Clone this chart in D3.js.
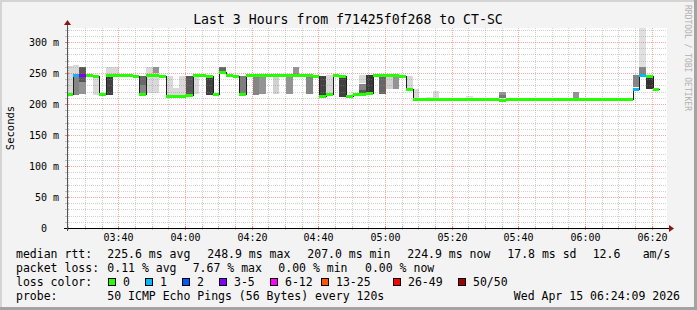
<!DOCTYPE html>
<html>
<head>
<meta charset="utf-8">
<script src="https://cdn.jsdelivr.net/npm/d3@7"></script>
<style>
  body { margin: 0; background: #f3f3f3; }
  text { font-family: "DejaVu Sans Mono", monospace; fill: #000; }
</style>
</head>
<body>
<div class="chart"></div>
<script>
// data
var stepStart = Date.UTC(2026, 3, 15, 3, 24, 20);
var stepSec = 120;

// median rtt per 120s step (ms)
var medians = [
  216, 247, 247, 247, 245, 216, 247, 247, 247, 247,
  245, 216, 247, 247, 245, 213, 213, 213, 215, 247,
  247, 245, 216, 251, 247, 245, 216, 247, 247, 247,
  247, 247, 247, 247, 247, 247, 247, 245, 213, 216,
  247, 245, 213, 216, 216, 218, 247, 247, 247, 247,
  245, 225, 208, 208, 208, 208, 208, 208, 208, 208,
  208, 208, 208, 208, 208, 207, 208, 208, 208, 208,
  208, 208, 208, 208, 208, 208, 208, 208, 208, 208,
  208, 208, 208, 208, 208, 225, 247, 245, 225
];

// lost pings (of 50) per step
var losses = [
  0, 1, 4, 0, 0, 0, 0, 0, 0, 0,
  0, 0, 0, 0, 0, 0, 0, 0, 0, 0,
  0, 0, 0, 0, 0, 0, 0, 0, 0, 0,
  0, 0, 0, 0, 0, 0, 0, 0, 0, 0,
  0, 0, 0, 0, 0, 0, 0, 0, 0, 0,
  0, 0, 0, 0, 0, 0, 0, 0, 0, 0,
  0, 0, 0, 0, 0, 0, 0, 0, 0, 0,
  0, 0, 0, 0, 0, 0, 0, 0, 0, 0,
  0, 0, 0, 0, 0, 1, 1, 0, 0
];

// smoke bands: [step, low ms, high ms, pair depth 1..25]
var smoke = [
  [0, 217, 262, 3],
  [1, 246, 263, 3], [1, 214, 246, 14],
  [2, 236, 260, 20], [2, 216, 236, 12],
  [4, 214, 245, 3],
  [6, 245, 260, 3], [6, 215, 245, 23],
  [7, 247, 260, 3],
  [11, 216, 231, 14], [11, 231, 245, 18],
  [12, 217, 260, 3],
  [13, 217, 250, 3], [13, 250, 260, 12],
  [15, 214, 245, 3],
  [16, 214, 226, 3],
  [17, 214, 245, 3],
  [18, 216, 245, 20],
  [19, 216, 245, 3],
  [21, 214, 245, 23],
  [23, 251, 260, 18],
  [26, 216, 245, 15],
  [28, 214, 245, 14],
  [29, 216, 245, 12],
  [31, 216, 245, 4],
  [33, 216, 245, 12],
  [34, 247, 260, 12],
  [36, 216, 245, 14],
  [38, 214, 245, 23],
  [39, 214, 247, 3],
  [41, 212, 244, 23],
  [44, 234, 247, 3], [44, 223, 232, 14], [44, 218, 223, 20],
  [45, 220, 247, 24],
  [47, 216, 245, 18],
  [48, 224, 245, 4],
  [49, 224, 245, 12],
  [51, 226, 245, 3],
  [52, 208, 225, 3],
  [54, 208, 212, 2],
  [55, 208, 221, 3],
  [60, 209, 213, 2],
  [65, 209, 220, 12], [65, 209, 214, 16],
  [76, 209, 220, 12],
  [85, 227, 247, 14],
  [86, 260, 330, 2], [86, 248, 260, 14],
  [87, 224, 243, 25]
];

var lossLabels = ["0", "1", "2", "3-5", "6-12", "13-25", "26-49", "50/50"];
var lossColors = ["#26ff00", "#00b8ff", "#0059ff", "#7e00ff", "#ff00ff", "#ff5500", "#ff0000", "#a00000"];
var lossUpper = [0, 1, 2, 5, 12, 25, 49, 50];

var yTicks = [0, 50, 100, 150, 200, 250, 300];

var title = "Last 3 Hours from f71425f0f268 to CT-SC";
var rttStats = ["225.6 ms avg", "248.9 ms max", "207.0 ms min", "224.9 ms now", "17.8 ms sd", "12.6", "am/s"];
var lossStats = ["0.11 % avg", "7.67 % max", "0.00 % min", "0.00 % now"];
var probeText = "50 ICMP Echo Pings (56 Bytes) every 120s";
var stamp = "Wed Apr 15 06:24:09 2026";

// layout
var svgWidth = 697, svgHeight = 310;
var plot = { left: 67, right: 667, top: 28, bottom: 228 };

var svg = d3.select(".chart").append("svg")
  .attr("width", svgWidth)
  .attr("height", svgHeight);

svg.append("rect").attr("width", svgWidth).attr("height", svgHeight).attr("fill", "#f3f3f3");
svg.append("rect").attr("x", 0).attr("y", 0).attr("width", svgWidth).attr("height", 2).attr("fill", "#d4d4d4");
svg.append("rect").attr("x", 0).attr("y", 0).attr("width", 2).attr("height", svgHeight).attr("fill", "#d4d4d4");
svg.append("rect").attr("x", 0).attr("y", svgHeight - 3).attr("width", svgWidth).attr("height", 3).attr("fill", "#a3a3a3");
svg.append("rect").attr("x", svgWidth - 3).attr("y", 0).attr("width", 3).attr("height", svgHeight).attr("fill", "#a3a3a3");

var x = d3.scaleUtc()
  .domain([Date.UTC(2026, 3, 15, 3, 24, 36), Date.UTC(2026, 3, 15, 6, 24, 36)])
  .range([plot.left, plot.right]);

var y = d3.scaleLinear()
  .domain([0, 322.6])
  .range([plot.bottom, plot.top]);

svg.append("defs").append("clipPath").attr("id", "clip")
  .append("rect")
  .attr("x", plot.left).attr("y", plot.top)
  .attr("width", plot.right - plot.left).attr("height", plot.bottom - plot.top);

svg.append("rect")
  .attr("x", plot.left).attr("y", plot.top)
  .attr("width", plot.right - plot.left).attr("height", plot.bottom - plot.top)
  .attr("fill", "#ffffff");

var t0 = function(i) { return new Date(stepStart + i * stepSec * 1000); };
var t1 = function(i) { return new Date(stepStart + (i + 1) * stepSec * 1000); };

var chartGroup = svg.append("g").attr("clip-path", "url(#clip)");

// smoke
chartGroup.selectAll("rect.smoke")
  .data(smoke)
  .enter()
  .append("rect")
  .attr("class", "smoke")
  .attr("x", d => Math.round(x(t0(d[0]))))
  .attr("width", d => Math.round(x(t1(d[0]))) - Math.round(x(t0(d[0]))))
  .attr("y", d => Math.round(y(d[2])))
  .attr("height", d => Math.round(y(d[1])) - Math.round(y(d[2])))
  .attr("fill", function(d) {
    var g = Math.floor(190 / 25 * (25 - d[3])) + 50;
    return d3.rgb(g, g, g);
  })
  .attr("shape-rendering", "crispEdges");

// grid (semi transparent, drawn over the smoke like rrdtool does)
var minorCol = "rgba(140,140,140,0.4)", majorCol = "rgba(255,60,60,0.45)";
var grid = svg.append("g").attr("shape-rendering", "crispEdges");
var minorX = d3.utcMinute.every(5).range(x.domain()[0], x.domain()[1]);
minorX.forEach(function(t) {
  var major = t.getUTCMinutes() % 20 === 0;
  var xx = Math.round(x(t)) + 0.5;
  grid.append("line")
    .attr("x1", xx).attr("x2", xx)
    .attr("y1", plot.top).attr("y2", plot.bottom)
    .attr("stroke", major ? majorCol : minorCol)
    .attr("stroke-dasharray", "1,1");
  grid.append("line")
    .attr("x1", xx).attr("x2", xx)
    .attr("y1", plot.bottom - 2).attr("y2", plot.bottom + 2)
    .attr("stroke", major ? "#e08080" : "#c0c0c0");
});
d3.range(10, 330, 10).forEach(function(v) {
  var yy = Math.round(y(v)) + 0.5;
  if (yy < plot.top) return;
  var major = v % 50 === 0;
  grid.append("line")
    .attr("x1", plot.left).attr("x2", plot.right)
    .attr("y1", yy).attr("y2", yy)
    .attr("stroke", major ? majorCol : minorCol)
    .attr("stroke-dasharray", "1,1");
  grid.append("line")
    .attr("x1", plot.left - 2).attr("x2", plot.left + 2)
    .attr("y1", yy).attr("y2", yy)
    .attr("stroke", major ? "#e08080" : "#c0c0c0");
});

// median line (black step)
var medPts = medians.map((m, i) => [t0(i), m]);
medPts.push([t1(medians.length - 1), medians[medians.length - 1]]);
var line = d3.line()
  .x(d => Math.round(x(d[0])) + 0.5)
  .y(d => Math.round(y(d[1])) + 0.5)
  .curve(d3.curveStepAfter);

var lines = svg.append("g").attr("clip-path", "url(#clip)");
lines.append("path")
  .attr("d", line(medPts))
  .attr("fill", "none")
  .attr("stroke", "#202020")
  .attr("stroke-width", 1)
  .attr("shape-rendering", "crispEdges");

// loss coloured median bands
function lossIndex(l) {
  for (var k = 0; k < lossUpper.length; k++) if (l <= lossUpper[k]) return k;
  return lossUpper.length - 1;
}
lines.selectAll("rect.med")
  .data(medians)
  .enter()
  .append("rect")
  .attr("class", "med")
  .attr("x", (d, i) => Math.round(x(t0(i))))
  .attr("width", (d, i) => Math.round(x(t1(i))) - Math.round(x(t0(i))))
  .attr("y", d => Math.round(y(d)) - 1)
  .attr("height", 3)
  .attr("fill", (d, i) => lossColors[lossIndex(losses[i])])
  .attr("shape-rendering", "crispEdges");

// axes
var axes = svg.append("g").attr("shape-rendering", "crispEdges");
axes.append("line")
  .attr("x1", plot.left - 3).attr("x2", plot.right + 2)
  .attr("y1", plot.bottom + 0.5).attr("y2", plot.bottom + 0.5)
  .attr("stroke", "#000");
axes.append("line")
  .attr("x1", plot.left + 0.5).attr("x2", plot.left + 0.5)
  .attr("y1", plot.bottom + 3).attr("y2", plot.top - 3)
  .attr("stroke", "#555");
svg.append("path")
  .attr("d", `M${plot.right + 2},${plot.bottom - 3}L${plot.right + 7},${plot.bottom + 0.5}L${plot.right + 2},${plot.bottom + 4}Z`)
  .attr("fill", "#8b1414");
svg.append("path")
  .attr("d", `M${plot.left - 3},${plot.top - 3}L${plot.left + 0.5},${plot.top - 8}L${plot.left + 4},${plot.top - 3}Z`)
  .attr("fill", "#8b1414");

// y labels
svg.selectAll("text.ylab")
  .data(yTicks)
  .enter()
  .append("text")
  .attr("class", "ylab")
  .attr("x", d => d === 0 ? 47 : 59)
  .attr("y", d => y(d) + 3.5)
  .attr("text-anchor", "end")
  .attr("font-size", "10px")
  .text(d => d === 0 ? "0" : d + " m");

// x labels
var xLabels = d3.utcMinute.every(20).range(x.domain()[0], x.domain()[1]);
svg.selectAll("text.xlab")
  .data(xLabels)
  .enter()
  .append("text")
  .attr("class", "xlab")
  .attr("x", d => Math.round(x(d)) + 0.5)
  .attr("y", 241)
  .attr("text-anchor", "middle")
  .attr("font-size", "10px")
  .text(d => d3.utcFormat("%H:%M")(d));

svg.append("text")
  .attr("transform", "translate(14, 128) rotate(-90)")
  .attr("text-anchor", "middle")
  .attr("font-size", "10.5px")
  .text("Seconds");

svg.append("text")
  .attr("x", 348).attr("y", 23.5)
  .attr("text-anchor", "middle")
  .attr("font-size", "13.2px")
  .text(title);

svg.append("text")
  .attr("transform", "translate(685, 5) rotate(90)")
  .attr("font-size", "8px")
  .style("fill", "#b0b0b0")
  .text("RRDTOOL / TOBI OETIKER");

// legend
var legend = svg.append("g").attr("font-size", "11.5px");
legend.append("text").attr("x", 16).attr("y", 258).text("median rtt:");
var rttX = [107.3, 207.3, 307.3, 407.3, 507.3, 592.7, 642.7];
rttStats.forEach((s, i) => legend.append("text").attr("x", rttX[i]).attr("y", 258).text(s));
legend.append("text").attr("x", 16).attr("y", 272).text("packet loss:");
var lossX = [107.3, 192.7, 278.3, 365];
lossStats.forEach((s, i) => legend.append("text").attr("x", lossX[i]).attr("y", 272).text(s));
legend.append("text").attr("x", 16).attr("y", 286).text("loss color:");
var boxX = [108.5, 145.5, 182.5, 219.5, 270.5, 321.5, 393.5, 458.5];
lossLabels.forEach(function(l, i) {
  legend.append("rect")
    .attr("x", boxX[i]).attr("y", 278.5)
    .attr("width", 7).attr("height", 7)
    .attr("fill", lossColors[i])
    .attr("stroke", "#000");
  legend.append("text").attr("x", boxX[i] + 14.5).attr("y", 286).text(l);
});
legend.append("text").attr("x", 16).attr("y", 299.5).text("probe:");
legend.append("text").attr("x", 107.3).attr("y", 299.5).text(probeText);
legend.append("text").attr("x", 680).attr("y", 299.5).attr("text-anchor", "end").text(stamp);
</script>
</body>
</html>
